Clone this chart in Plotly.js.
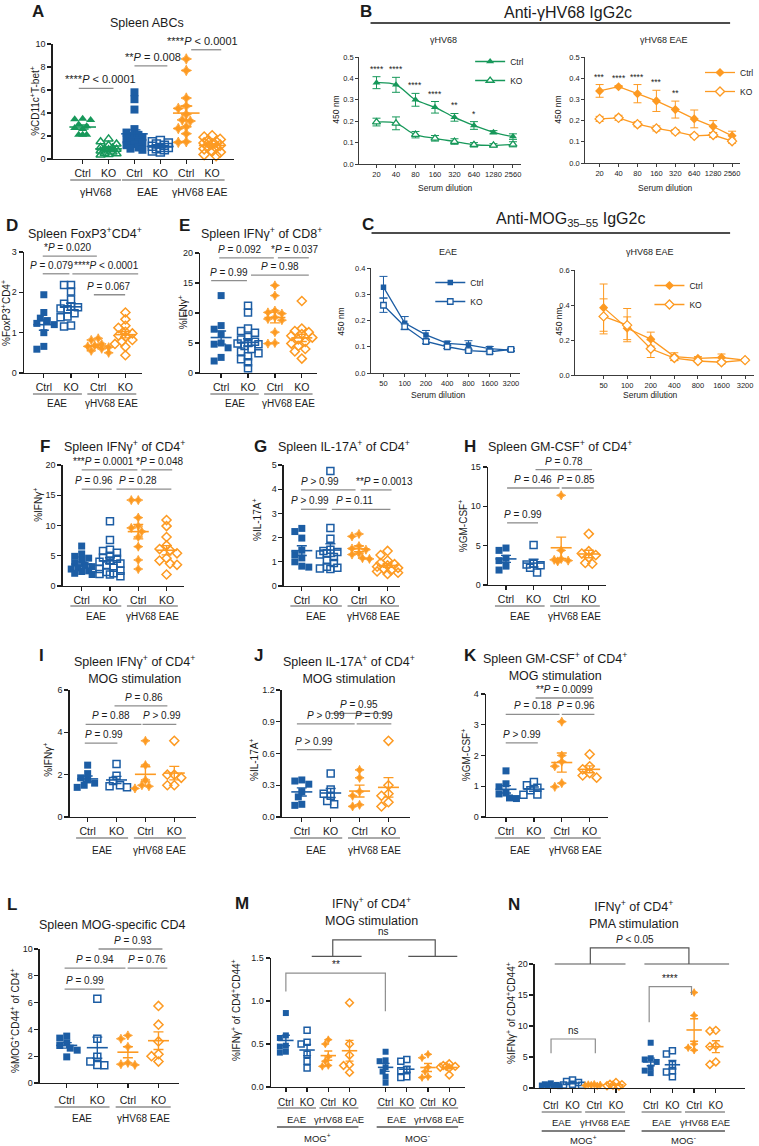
<!DOCTYPE html>
<html><head><meta charset="utf-8">
<script src="https://cdn.plot.ly/plotly-3.0.1.min.js"></script>
<style>html,body{margin:0;padding:0;background:#fff}#chart{width:759px;height:1146px}</style>
</head><body><div id="chart"></div>
<script>
// ================= DATA =================
const catLabels4 = ['Ctrl','KO','Ctrl','KO'];
const catLabels6 = ['Ctrl','KO','Ctrl','KO','Ctrl','KO'];
const catLabels8 = ['Ctrl','KO','Ctrl','KO','Ctrl','KO','Ctrl','KO'];
const groupsA = ['γHV68','EAE','γHV68 EAE'];
const groups2 = ['EAE','γHV68 EAE'];
const groupsMOG = ['MOG<sup>+</sup>','MOG<sup>-</sup>'];

// A: Spleen ABCs (%CD11c+T-bet+)
const A_hv68_ctrl = [3.5, 3.45, 3.4, 3.0, 2.85, 2.7, 2.6, 2.1, 2.1, 2.1];
const A_hv68_ko = [1.75, 1.5, 1.3, 1.2, 1.0, 0.95, 0.9, 0.85, 0.8, 0.7, 0.6, 0.5, 0.45, 0.4, 0.35];
const A_eae_ctrl = [5.8, 5.2, 4.3, 2.6, 2.3, 2.1, 2.0, 1.9, 1.8, 1.7, 1.6, 1.5, 1.4, 1.3, 1.2, 1.0, 0.9, 0.8];
const A_eae_ko = [1.6, 1.5, 1.4, 1.3, 1.2, 1.1, 1.0, 1.0, 0.9, 0.8, 0.7, 0.6];
const A_hv_ctrl = [8.7, 7.7, 5.3, 4.6, 4.4, 3.9, 3.4, 3.3, 2.8, 2.65, 2.2, 1.5, 1.45];
const A_hv_ko = [2.0, 1.9, 1.7, 1.6, 1.5, 1.4, 1.3, 1.2, 1.1, 1.0, 0.9, 0.7, 0.6, 0.4, 0.3];

// B: Anti-gHV68 IgG2c
const B_dilutions = ['20','40','80','160','320','640','1280','2560'];
const B1_ctrl = [0.38, 0.37, 0.30, 0.265, 0.218, 0.18, 0.148, 0.128];
const B1_ctrl_sem = [0.028, 0.035, 0.03, 0.027, 0.018, 0.018, 0.008, 0.013];
const B1_ko = [0.196, 0.19, 0.137, 0.12, 0.105, 0.09, 0.087, 0.092];
const B1_ko_sem = [0.018, 0.03, 0.015, 0.013, 0.013, 0.01, 0.008, 0.012];
const B1_stars = ['****','****','****','****','**','*','',''];
const B2_ctrl = [0.34, 0.36, 0.327, 0.293, 0.252, 0.208, 0.172, 0.128];
const B2_ctrl_sem = [0.03, 0.005, 0.043, 0.05, 0.04, 0.042, 0.028, 0.022];
const B2_ko = [0.208, 0.213, 0.183, 0.163, 0.148, 0.128, 0.132, 0.103];
const B2_ko_sem = [0.012, 0.012, 0.012, 0.012, 0.01, 0.008, 0.012, 0.01];
const B2_stars = ['***','****','****','***','**','','',''];

// C: Anti-MOG35-55 IgG2c
const C_dilutions = ['50','100','200','400','800','1600','3200'];
const C1_ctrl = [0.327, 0.19, 0.145, 0.113, 0.107, 0.093, 0.087];
const C1_ctrl_sem = [0.041, 0.025, 0.017, 0.008, 0.016, 0.008, 0.005];
const C1_ko = [0.258, 0.177, 0.12, 0.1, 0.085, 0.081, 0.09];
const C1_ko_sem = [0.027, 0.01, 0.008, 0.007, 0.005, 0.008, 0.005];
const C2_ctrl = [0.385, 0.267, 0.205, 0.105, 0.095, 0.1, 0.085];
const C2_ctrl_sem = [0.135, 0.065, 0.04, 0.022, 0.01, 0.02, 0.006];
const C2_ko = [0.335, 0.285, 0.15, 0.097, 0.08, 0.073, 0.085];
const C2_ko_sem = [0.1, 0.095, 0.05, 0.015, 0.008, 0.01, 0.006];

// D: FoxP3+CD4+
const D_eae_ctrl = [1.94, 1.5, 1.36, 1.3, 1.23, 1.2, 1.0, 0.66, 0.59];
const D_eae_ko = [2.18, 2.18, 2.02, 1.82, 1.72, 1.65, 1.63, 1.6, 1.58, 1.48, 1.4, 1.38, 1.18, 1.15];
const D_hv_ctrl = [0.86, 0.82, 0.72, 0.68, 0.66, 0.64, 0.6, 0.55, 0.5];
const D_hv_ko = [1.5, 1.33, 1.17, 1.12, 1.02, 0.98, 0.93, 0.9, 0.82, 0.78, 0.72, 0.65, 0.44];
// E: IFNg+ of CD8+
const E_eae_ctrl = [12.9, 7.9, 7.3, 6.5, 5.0, 4.8, 4.2, 2.6, 2.0];
const E_eae_ko = [11.2, 10.1, 7.4, 7.0, 6.7, 6.0, 5.6, 5.2, 5.0, 4.9, 4.8, 4.5, 4.0, 3.6, 3.3, 2.8, 2.3, 1.8, 0.8];
const E_hv_ctrl = [14.6, 12.9, 10.4, 10.1, 9.9, 9.3, 9.0, 8.8, 6.8, 5.0, 4.9];
const E_hv_ko = [12.0, 7.4, 7.0, 6.8, 6.5, 6.2, 5.9, 5.6, 5.2, 4.9, 4.5, 4.0, 3.6, 2.4];
// F: IFNg+ of CD4+
const F_eae_ctrl = [6.6, 5.3, 4.9, 4.6, 4.3, 3.8, 3.4, 3.2, 3.0, 2.8, 2.5, 2.4, 2.1, 1.9];
const F_eae_ko = [10.7, 7.6, 6.0, 5.8, 5.5, 5.0, 4.7, 4.5, 4.2, 4.0, 3.7, 3.4, 3.0, 2.8, 2.5, 2.3, 2.1, 2.0, 1.9, 1.6];
const F_hv_ctrl = [14.2, 14.2, 11.3, 9.9, 9.6, 9.0, 8.1, 6.5, 4.3, 2.8];
const F_hv_ko = [10.9, 9.9, 8.1, 6.7, 6.1, 5.9, 5.4, 4.6, 4.2, 3.7, 3.5, 1.9];
// G: IL-17A+ of CD4+
const G_eae_ctrl = [2.38, 2.25, 1.98, 1.48, 1.3, 1.16, 1.0, 0.82, 0.78];
const G_eae_ko = [4.75, 2.4, 1.95, 1.5, 1.45, 1.4, 1.35, 1.3, 1.2, 1.05, 0.95, 0.8, 0.75, 0.72, 0.7];
const G_hv_ctrl = [2.15, 2.05, 1.65, 1.55, 1.5, 1.35, 1.3, 1.15, 1.12];
const G_hv_ko = [1.45, 1.28, 1.05, 0.95, 0.9, 0.85, 0.8, 0.75, 0.7, 0.65, 0.6, 0.55, 0.5];
// H: GM-CSF+ of CD4+
const H_eae_ctrl = [4.7, 4.4, 3.4, 3.1, 2.4, 1.9];
const H_eae_ko = [5.1, 2.7, 2.6, 2.5, 2.2, 1.6];
const H_hv_ctrl = [11.4, 4.4, 3.3, 3.2, 3.1, 3.0];
const H_hv_ko = [6.5, 4.3, 4.0, 3.8, 3.5, 2.8, 2.7];
// I: IFNg+ of CD4+, MOG stimulation
const I_eae_ctrl = [2.45, 2.05, 1.85, 1.75, 1.6, 1.5, 1.4];
const I_eae_ko = [2.5, 1.95, 1.7, 1.5, 1.45, 1.4];
const I_hv_ctrl = [3.6, 2.45, 1.75, 1.5, 1.45, 1.35];
const I_hv_ko = [3.6, 2.0, 2.0, 1.85, 1.5, 1.5];
// J: IL-17A+ of CD4+, MOG stimulation
const J_eae_ctrl = [0.35, 0.34, 0.31, 0.24, 0.19, 0.12, 0.11];
const J_eae_ko = [0.41, 0.26, 0.22, 0.2, 0.15, 0.12];
const J_hv_ctrl = [0.445, 0.37, 0.24, 0.2, 0.115, 0.1];
const J_hv_ko = [0.72, 0.3, 0.22, 0.2, 0.14, 0.1];
// K: GM-CSF+ of CD4+, MOG stimulation
const K_eae_ctrl = [1.5, 1.08, 0.98, 0.78, 0.75, 0.62, 0.6];
const K_eae_ko = [1.14, 1.03, 0.95, 0.87, 0.73, 0.72];
const K_hv_ctrl = [3.1, 2.0, 1.8, 1.65, 1.1, 0.98];
const K_hv_ko = [2.04, 1.65, 1.55, 1.43, 1.35, 1.28];
// L: MOG-specific CD4
const L_eae_ctrl = [3.5, 3.35, 3.0, 2.8, 2.6, 2.45, 1.95];
const L_eae_ko = [6.28, 3.3, 1.95, 1.6, 1.35, 1.33];
const L_hv_ctrl = [3.55, 3.3, 2.7, 1.5, 1.4, 1.35];
const L_hv_ko = [5.75, 4.35, 3.1, 2.15, 2.0, 1.6];
// M: IFNg+ of CD4+CD44+, MOG stimulation
const M_pos_eae_ctrl = [0.86, 0.6, 0.57, 0.48, 0.47, 0.41, 0.4];
const M_pos_eae_ko = [0.66, 0.52, 0.5, 0.38, 0.3, 0.22];
const M_pos_hv_ctrl = [0.55, 0.5, 0.35, 0.3, 0.25, 0.24];
const M_pos_hv_ko = [0.98, 0.5, 0.37, 0.26, 0.25, 0.17];
const M_neg_eae_ctrl = [0.41, 0.31, 0.3, 0.23, 0.18, 0.12, 0.05];
const M_neg_eae_ko = [0.32, 0.3, 0.2, 0.19, 0.12, 0.11];
const M_neg_hv_ctrl = [0.38, 0.34, 0.23, 0.18, 0.12, 0.11];
const M_neg_hv_ko = [0.27, 0.25, 0.24, 0.24, 0.23, 0.22, 0.14];
// N: IFNg+ of CD4+CD44+, PMA stimulation
const N_pos_eae_ctrl = [0.75, 0.6, 0.5, 0.45, 0.4, 0.35, 0.3];
const N_pos_eae_ko = [1.3, 1.05, 0.9, 0.6, 0.5, 0.45];
const N_pos_hv_ctrl = [0.6, 0.55, 0.5, 0.45, 0.4, 0.35];
const N_pos_hv_ko = [0.9, 0.6, 0.55, 0.45, 0.35, 0.3];
const N_neg_eae_ctrl = [7.3, 4.8, 4.6, 4.2, 3.3, 2.8, 2.4];
const N_neg_eae_ko = [6.0, 5.5, 3.8, 2.8, 2.6, 1.8];
const N_neg_hv_ctrl = [15.4, 11.7, 7.1, 6.5, 6.1];
const N_neg_hv_ko = [9.2, 9.3, 6.8, 6.7, 4.2, 3.8];

// ================= LAYOUT / STYLE =================
const W = 759, H = 1146;
const FONT = 'Liberation Sans, Arial, Helvetica, sans-serif';
const GREEN = '#17985a', BLUE = '#1c5da4', ORANGE = '#fd9a22', GRAY = '#8e8e8e', INK = '#1b1b1b';

const GEO = {
  A:  {n:1,  xL:53,  xR:235, yT:44,  yB:159,  p0:83,  s:26,    yr:[0,10],  dt:2,   dec:0},
  B1: {n:2,  xL:360, xR:523, yT:57,  yB:164,  p0:378, s:19.57, yr:[0,0.5], dt:0.1, dec:1},
  B2: {n:3,  xL:587, xR:743, yT:57,  yB:163,  p0:602, s:19,    yr:[0,0.5], dt:0.1, dec:1},
  C1: {n:4,  xL:372, xR:522, yT:268, yB:373,  p0:385, s:21.33, yr:[0,0.4], dt:0.1, dec:1},
  C2: {n:5,  xL:577, xR:757, yT:270, yB:375,  p0:606, s:23.67, yr:[0,0.6], dt:0.2, dec:1},
  D:  {n:6,  xL:24,  xR:143, yT:252, yB:373,  p0:44,  s:27.3,  yr:[0,3],   dt:1,   dec:0},
  E:  {n:7,  xL:201, xR:318, yT:253, yB:373,  p0:222, s:27,    yr:[0,20],  dt:5,   dec:0},
  F:  {n:8,  xL:63,  xR:185, yT:465, yB:586,  p0:82,  s:28.4,  yr:[0,20],  dt:5,   dec:0},
  G:  {n:9,  xL:285, xR:402, yT:465, yB:586,  p0:303, s:28.7,  yr:[0,5],   dt:1,   dec:0},
  H:  {n:10, xL:490, xR:608, yT:467, yB:585,  p0:508, s:27.7,  yr:[0,15],  dt:5,   dec:0},
  I:  {n:11, xL:70,  xR:197, yT:690, yB:817,  p0:88,  s:29,    yr:[0,6],   dt:2,   dec:0},
  J:  {n:12, xL:283, xR:412, yT:690, yB:817,  p0:303, s:29,    yr:[0,1.2], dt:0.3, dec:1},
  K:  {n:13, xL:488, xR:610, yT:694, yB:817,  p0:508, s:28,    yr:[0,4],   dt:1,   dec:0},
  L:  {n:14, xL:40,  xR:180, yT:949, yB:1083, p0:67,  s:30.7,  yr:[0,10],  dt:2,   dec:0},
  M:  {n:15, xL:272, xR:467, yT:958, yB:1087, p0:287, s:21.3,  yr:[0,1.5], dt:0.5, dec:1},
  N:  {n:16, xL:537, xR:748, yT:964, yB:1088, p0:553, s:21.8,  yr:[0,20],  dt:5,   dec:0}
};
const POS4 = [0,1,2,3], POS6 = [0,1,2,3,4,5];
const POS_M = [0,1,2,3,4.7,5.7,6.7,7.7];
const POS_N = [0,1,2,3,4.6,5.6,6.6,7.6];

const X = px => px / W;
const Y = py => 1 - py / H;
const upx = (g,u) => g.p0 + u * g.s;
const vpy = (g,v) => g.yB - (v - g.yr[0]) / (g.yr[1] - g.yr[0]) * (g.yB - g.yT);
const aid = n => n === 1 ? '' : String(n);

const data = [];
const layout = {
  width: W, height: H, margin: {l:0, r:0, t:0, b:0},
  paper_bgcolor: '#fff', plot_bgcolor: 'rgba(0,0,0,0)',
  font: {family: FONT, color: INK}, showlegend: true,
  annotations: [], shapes: []
};

function txt(t, x, y, size, o) {
  layout.annotations.push(Object.assign({
    text: t, x: X(x), y: Y(y), xref: 'paper', yref: 'paper', showarrow: false,
    xanchor: 'center', yanchor: 'middle', font: {family: FONT, size: size, color: INK}
  }, o || {}));
}
function ln(x0, y0, x1, y1, color, w) {
  layout.shapes.push({type:'line', xref:'paper', yref:'paper', x0:X(x0), y0:Y(y0), x1:X(x1), y1:Y(y1),
    line:{color: color || GRAY, width: w || 1.2}});
}
function poly(pts, color, w) {
  const d = pts.map((p,i) => (i ? 'L' : 'M') + X(p[0]).toFixed(5) + ',' + Y(p[1]).toFixed(5)).join(' ');
  layout.shapes.push({type:'path', xref:'paper', yref:'paper', path: d, line:{color: color || GRAY, width: w || 1.2}});
}

function axes(g, xt, xl, style) {
  const id = aid(g.n);
  const yt = [];
  for (let v = g.yr[0]; v <= g.yr[1] + 1e-9; v += g.dt) yt.push(+v.toFixed(4));
  const common = {showline:true, linecolor:style.lc, linewidth:style.lw, ticks:'outside', ticklen:style.tl,
    tickwidth:style.tw, tickcolor:style.lc, showgrid:false, zeroline:false, fixedrange:true, tickangle:0};
  layout['xaxis' + id] = Object.assign({}, common, {
    domain:[X(g.xL), X(g.xR)], range:[(g.xL - g.p0) / g.s, (g.xR - g.p0) / g.s], anchor:'y' + id,
    tickmode:'array', tickvals:xt, ticktext:xl, tickfont:{family:FONT, size:style.xf, color:INK},
    ticklabelstandoff: style.xso || 0
  });
  layout['yaxis' + id] = Object.assign({}, common, {
    domain:[Y(g.yB), Y(g.yT)], range:g.yr, anchor:'x' + id,
    tickmode:'array', tickvals:yt, ticktext:yt.map(v => v.toFixed(g.dec)),
    tickfont:{family:FONT, size:style.yf, color:INK}
  });
}

const DOT = {lc:'#1e1e1e', lw:1.4, tl:4, tw:1.3, xf:10.5, yf:9};
const LINEAX = {lc:'#3c3c3c', lw:1, tl:2.5, tw:1, xf:7.5, yf:7.5};

const mean = a => a.reduce((s,v) => s + v, 0) / a.length;
const sem = a => { const m = mean(a); return Math.sqrt(a.reduce((s,v) => s + (v-m)*(v-m), 0) / (a.length - 1)) / Math.sqrt(a.length); };

// beeswarm-style horizontal spreading (layout only)
function swarm(vals, g, size) {
  const ppu = (g.yB - g.yT) / (g.yr[1] - g.yr[0]);
  const d = size * 0.85, step = size * 0.5, maxOff = g.s * 0.45;
  const order = vals.map((v,i) => i).sort((a,b) => vals[b] - vals[a]);
  const placed = [], off = new Array(vals.length).fill(0);
  order.forEach(i => {
    const y = vals[i] * ppu;
    let best = 0, bestScore = -1;
    for (let k = 0; ; k++) {
      const m = Math.ceil(k/2) * (k % 2 ? -1 : 1) * step;
      if (Math.abs(m) > maxOff) break;
      let minD = Infinity;
      placed.forEach(p => { const dd = Math.hypot(m - p.x, y - p.y); if (dd < minD) minD = dd; });
      if (minD >= d) { best = m; break; }
      if (minD > bestScore) { bestScore = minD; best = m; }
    }
    placed.push({x: best, y: y});
    off[i] = best / g.s;
  });
  return off;
}

function dotPanel(g, series, ms, mw, cap) {
  const id = aid(g.n);
  series.forEach(s => {
    const off = swarm(s.v, g, ms);
    const filledStar = (!s.open && s.sym === 'diamond');
    data.push({type:'scatter', mode:'markers', x: s.v.map((_,i) => s.pos + off[i]), y: s.v,
      xaxis:'x' + id, yaxis:'y' + id, showlegend:false, hoverinfo:'skip', cliponaxis:false,
      marker:{symbol: s.open ? s.sym + '-open' : (filledStar ? 'star-diamond' : s.sym),
        size: filledStar ? ms - 0.5 : ms, color: s.c,
        line:{color: s.c, width: s.open ? 1.5 : (filledStar ? 0.8 : 0)}}});
  });
  series.forEach(s => {
    data.push({type:'scatter', mode:'markers', x:[s.pos], y:[mean(s.v)], xaxis:'x' + id, yaxis:'y' + id,
      showlegend:false, hoverinfo:'skip', cliponaxis:false,
      marker:{symbol:'line-ew', size: mw, color: s.c, line:{color: s.c, width: 1.6}},
      error_y:{type:'data', array:[sem(s.v)], visible:true, color: s.c, thickness: 1.4, width: cap}});
  });
}
function four(a, b, c, d, pos) {
  pos = pos || POS4;
  return [{v:a, pos:pos[0], c:BLUE, sym:'square'}, {v:b, pos:pos[1], c:BLUE, sym:'square', open:1},
          {v:c, pos:pos[2], c:ORANGE, sym:'diamond'}, {v:d, pos:pos[3], c:ORANGE, sym:'diamond', open:1}];
}

// significance brackets: [from, to, value, label, text x-shift px]
function brackets(g, list, fs) {
  list.forEach(b => {
    const y = vpy(g, b[2]);
    ln(upx(g, b[0]), y, upx(g, b[1]), y, GRAY, 1.3);
    txt(b[3], (upx(g, b[0]) + upx(g, b[1])) / 2 + (b[4] || 0), y - 1, fs || 10, {yanchor:'bottom'});
  });
}
function groupRow(g, pos, pairs, labels, lineY, labelY, fs, ext, color) {
  pairs.forEach((p, i) => {
    ln(upx(g, pos[p[0]] - ext), lineY, upx(g, pos[p[1]] + ext), lineY, color || GRAY, 1.3);
    txt(labels[i], (upx(g, pos[p[0]]) + upx(g, pos[p[1]])) / 2, labelY, fs);
  });
}

// ---------- Panel A ----------
axes(GEO.A, POS6, catLabels6, DOT);
dotPanel(GEO.A, [
  {v:A_hv68_ctrl, pos:0, c:GREEN, sym:'triangle-up'}, {v:A_hv68_ko, pos:1, c:GREEN, sym:'triangle-up', open:1},
  {v:A_eae_ctrl, pos:2, c:BLUE, sym:'square'}, {v:A_eae_ko, pos:3, c:BLUE, sym:'square', open:1},
  {v:A_hv_ctrl, pos:4, c:ORANGE, sym:'diamond'}, {v:A_hv_ko, pos:5, c:ORANGE, sym:'diamond', open:1}
], 8, 19, 6);
brackets(GEO.A, [[-0.15,1.19,6.15,'****<i>P</i> < 0.0001',4], [2.0,3.27,8.1,'**<i>P</i> = 0.008',2], [4.19,5.35,9.5,'****<i>P</i> < 0.0001',-4]], 11);
groupRow(GEO.A, POS6, [[0,1],[2,3],[4,5]], groupsA, 180, 192, 10.5, 0.48);

// ---------- Line panels B, C ----------
function linePanel(g, cats, ctrl, ctrlSem, ko, koSem, color, sym, ms, spline, legend) {
  const id = aid(g.n);
  axes(g, cats.map((c,i) => i), cats, LINEAX);
  const xs = cats.map((c,i) => i);
  data.push({type:'scatter', mode:'lines+markers', name:'Ctrl', x: xs, y: ctrl, xaxis:'x'+id, yaxis:'y'+id, legend: legend,
    hoverinfo:'skip', line:{color: color, width: 1.3, shape: spline ? 'spline' : 'linear'},
    marker:{symbol: sym, size: ms, color: color},
    error_y:{type:'data', array: ctrlSem, visible:true, color: color, thickness: 1, width: 4}});
  data.push({type:'scatter', mode:'lines+markers', name:'KO', x: xs, y: ko, xaxis:'x'+id, yaxis:'y'+id, legend: legend,
    hoverinfo:'skip', line:{color: color, width: 1.3, shape: spline ? 'spline' : 'linear'},
    marker:{symbol: sym, size: ms, color: '#ffffff', line:{color: color, width: 1.3}},
    error_y:{type:'data', array: koSem, visible:true, color: color, thickness: 1, width: 4}});
}
linePanel(GEO.B1, B_dilutions, B1_ctrl, B1_ctrl_sem, B1_ko, B1_ko_sem, GREEN, 'triangle-up', 7, true, 'legend');
linePanel(GEO.B2, B_dilutions, B2_ctrl, B2_ctrl_sem, B2_ko, B2_ko_sem, ORANGE, 'diamond', 7, false, 'legend2');
linePanel(GEO.C1, C_dilutions, C1_ctrl, C1_ctrl_sem, C1_ko, C1_ko_sem, BLUE, 'square', 5.5, false, 'legend3');
linePanel(GEO.C2, C_dilutions, C2_ctrl, C2_ctrl_sem, C2_ko, C2_ko_sem, ORANGE, 'diamond', 7, false, 'legend4');
function stars(g, list, vals, sems) {
  const id = aid(g.n);
  list.forEach((s, i) => { if (s) layout.annotations.push({text: s, x: i, y: vals[i] + sems[i], xref:'x'+id, yref:'y'+id,
    showarrow:false, yanchor:'bottom', yshift: 1, font:{family:FONT, size:8.5, color:INK}}); });
}
stars(GEO.B1, B1_stars, B1_ctrl, B1_ctrl_sem);
stars(GEO.B2, B2_stars, B2_ctrl, B2_ctrl_sem);
const legBase = {xanchor:'left', yanchor:'top', bgcolor:'rgba(0,0,0,0)', font:{family:FONT, size:8.5, color:INK},
  itemwidth:30, tracegroupgap:0, traceorder:'normal'};
layout.legend = Object.assign({x: X(472), y: Y(47)}, legBase);
layout.legend2 = Object.assign({x: X(703), y: Y(58)}, legBase);
layout.legend3 = Object.assign({x: X(432), y: Y(268)}, legBase);
layout.legend4 = Object.assign({x: X(652), y: Y(271)}, legBase);

// headers for B and C
txt('Anti-γHV68 IgG2c', 570, 12, 16);
ln(372, 23, 733, 23, '#111', 1.5);
txt('Anti-MOG<sub>35–55</sub> IgG2c', 573, 220, 16);
ln(373, 233, 733, 233, '#111', 1.5);
txt('γHV68', 445, 40, 9); txt('γHV68 EAE', 667, 40, 9);
txt('EAE', 450, 252, 9); txt('γHV68 EAE', 653, 252, 9);
[[447,188],[668,188],[440,395],[653,395]].forEach(p => txt('Serum dilution', p[0], p[1], 8.5));
[[337,110],[560,110],[342,322],[561,322]].forEach(p => txt('450 nm', p[0], p[1], 8.5, {textangle:-90}));

// ---------- Panels D-L ----------
axes(GEO.D, POS4, catLabels4, DOT);
dotPanel(GEO.D, four(D_eae_ctrl, D_eae_ko, D_hv_ctrl, D_hv_ko), 7, 15, 5);
brackets(GEO.D, [[-0.04,1.95,2.9,'*<i>P</i> = 0.020',-2.5], [-0.04,0.94,2.46,'<i>P</i> = 0.079',-4], [1.05,3.47,2.46,'****<i>P</i> < 0.0001',1], [1.84,2.99,1.94,'<i>P</i> = 0.067']]);
groupRow(GEO.D, POS4, [[0,1],[2,3]], groups2, 394, 404, 10, 0.4);

axes(GEO.E, POS4, catLabels4, DOT);
dotPanel(GEO.E, four(E_eae_ctrl, E_eae_ko, E_hv_ctrl, E_hv_ko), 7, 15, 5);
brackets(GEO.E, [[-0.07,1.96,19.2,'<i>P</i> = 0.092',-6.5], [2.11,3.26,19.2,'*<i>P</i> = 0.037',1.5], [-0.37,0.96,15.4,'<i>P</i> = 0.99'], [1.11,3.26,16.3,'<i>P</i> = 0.98']]);
groupRow(GEO.E, POS4, [[0,1],[2,3]], groups2, 394, 404, 10, 0.4);

axes(GEO.F, POS4, catLabels4, DOT);
dotPanel(GEO.F, four(F_eae_ctrl, F_eae_ko, F_hv_ctrl, F_hv_ko), 7, 15, 5);
brackets(GEO.F, [[0,1.97,19.2,'***<i>P</i> = 0.0001',-6], [2.11,3.2,19.2,'*<i>P</i> = 0.048',3], [0,1.06,16.0,'<i>P</i> = 0.96',-3], [1.23,3.17,16.0,'<i>P</i> = 0.28',-5.5]]);
groupRow(GEO.F, POS4, [[0,1],[2,3]], groups2, 606, 616, 10, 0.4);

axes(GEO.G, POS4, catLabels4, DOT);
dotPanel(GEO.G, four(G_eae_ctrl, G_eae_ko, G_hv_ctrl, G_hv_ko), 7, 15, 5);
brackets(GEO.G, [[-0.03,1.88,3.97,'<i>P</i> > 0.99',-8], [2.06,3.14,3.97,'**<i>P</i> = 0.0013',8], [-0.03,0.87,3.17,'<i>P</i> > 0.99',-3.5], [1.05,3.1,3.17,'<i>P</i> = 0.11',-6.5]]);
groupRow(GEO.G, POS4, [[0,1],[2,3]], groups2, 606, 616, 10, 0.4);

axes(GEO.H, POS4, catLabels4, DOT);
dotPanel(GEO.H, four(H_eae_ctrl, H_eae_ko, H_hv_ctrl, H_hv_ko), 7, 15, 5);
brackets(GEO.H, [[1.07,3.12,14.66,'<i>P</i> = 0.78'], [0.04,1.94,12.33,'<i>P</i> = 0.46'], [2.02,3.18,12.33,'<i>P</i> = 0.85',-2], [0.04,1.16,7.9,'<i>P</i> = 0.99']]);
groupRow(GEO.H, POS4, [[0,1],[2,3]], groups2, 606, 616, 10, 0.4);

axes(GEO.I, POS4, catLabels4, DOT);
dotPanel(GEO.I, four(I_eae_ctrl, I_eae_ko, I_hv_ctrl, I_hv_ko), 7, 15, 5);
brackets(GEO.I, [[0.93,2.76,5.25,'<i>P</i> = 0.86',3], [-0.07,1.86,4.38,'<i>P</i> = 0.88',-3], [1.9,3.07,4.38,'<i>P</i> > 0.99',2.5], [-0.1,1.03,3.49,'<i>P</i> = 0.99',3]]);
groupRow(GEO.I, POS4, [[0,1],[2,3]], groups2, 838, 850, 10, 0.4);

axes(GEO.J, POS4, catLabels4, DOT);
dotPanel(GEO.J, four(J_eae_ctrl, J_eae_ko, J_hv_ctrl, J_hv_ko), 7, 15, 5);
brackets(GEO.J, [[0.93,3.0,0.98,'<i>P</i> = 0.95'], [-0.17,1.83,0.88,'<i>P</i> > 0.99'], [1.9,3.1,0.88,'<i>P</i> = 0.99'], [-0.17,1.03,0.636,'<i>P</i> > 0.99']]);
groupRow(GEO.J, POS4, [[0,1],[2,3]], groups2, 838, 850, 10, 0.4);

axes(GEO.K, POS4, catLabels4, DOT);
dotPanel(GEO.K, four(K_eae_ctrl, K_eae_ko, K_hv_ctrl, K_hv_ko), 7, 15, 5);
brackets(GEO.K, [[1.06,3.14,3.87,'**<i>P</i> = 0.0099'], [-0.01,1.92,3.34,'<i>P</i> = 0.18'], [2.0,3.17,3.34,'<i>P</i> = 0.96',-2], [-0.01,1.14,2.41,'<i>P</i> > 0.99']]);
groupRow(GEO.K, POS4, [[0,1],[2,3]], groups2, 838, 850, 10, 0.4);

axes(GEO.L, POS4, catLabels4, Object.assign({}, DOT, {xso: 3}));
dotPanel(GEO.L, four(L_eae_ctrl, L_eae_ko, L_hv_ctrl, L_hv_ko), 7, 15, 5);
brackets(GEO.L, [[1.04,3.13,10.0,'<i>P</i> = 0.93',3], [-0.07,1.92,8.58,'<i>P</i> = 0.94'], [1.99,3.29,8.58,'<i>P</i> = 0.76'], [-0.07,1.24,7.0,'<i>P</i> = 0.99']]);
groupRow(GEO.L, POS4, [[0,1],[2,3]], groups2, 1107, 1118, 10, 0.4);

// ---------- Panel M ----------
axes(GEO.M, POS_M, catLabels8, Object.assign({}, DOT, {xf:10, xso: 2}));
dotPanel(GEO.M, four(M_pos_eae_ctrl, M_pos_eae_ko, M_pos_hv_ctrl, M_pos_hv_ko, POS_M.slice(0,4))
  .concat(four(M_neg_eae_ctrl, M_neg_eae_ko, M_neg_hv_ctrl, M_neg_hv_ko, POS_M.slice(4))), 6, 11, 4);
(function(){
  const g = GEO.M, P = (u,v) => [upx(g,u), vpy(g,v)];
  poly([P(0,1.11), P(0,1.325), P(4.69,1.325), P(4.69,0.88)], GRAY, 1.2);
  txt('**', upx(g,2.35), vpy(g,1.325) - 1, 10, {yanchor:'bottom'});
  poly([P(1.22,1.52), P(3.57,1.52)], '#555', 1.2);
  poly([P(5.77,1.52), P(8.08,1.52)], '#555', 1.2);
  poly([P(2.21,1.52), P(2.21,1.71), P(7.04,1.71), P(7.04,1.52)], '#555', 1.2);
  txt('ns', upx(g,4.62), vpy(g,1.71) - 1, 10, {yanchor:'bottom'});
})();
groupRow(GEO.M, POS_M, [[0,1],[2,3],[4,5],[6,7]], ['EAE','γHV68 EAE','EAE','γHV68 EAE'], 1108, 1119, 9.5, 0.42);
groupRow(GEO.M, POS_M, [[0,3],[4,7]], groupsMOG, 1127, 1138, 9.5, 0.42, '#555');

// ---------- Panel N ----------
axes(GEO.N, POS_N, catLabels8, Object.assign({}, DOT, {xf:10, xso: 4}));
dotPanel(GEO.N, four(N_pos_eae_ctrl, N_pos_eae_ko, N_pos_hv_ctrl, N_pos_hv_ko, POS_N.slice(0,4))
  .concat(four(N_neg_eae_ctrl, N_neg_eae_ko, N_neg_hv_ctrl, N_neg_hv_ko, POS_N.slice(4))), 6, 11, 4);
(function(){
  const g = GEO.N, P = (u,v) => [upx(g,u), vpy(g,v)];
  poly([P(0.01,5.6), P(0.01,7.9), P(2.05,7.9), P(2.05,5.6)], GRAY, 1.2);
  txt('ns', upx(g,1.03), vpy(g,7.9) - 1, 10, {yanchor:'bottom'});
  poly([P(4.53,10.6), P(4.53,16.35), P(6.48,16.35), P(6.48,15.0)], GRAY, 1.2);
  txt('****', upx(g,5.5), vpy(g,16.35) - 1, 10, {yanchor:'bottom'});
  poly([P(0.18,20), P(3.44,20)], '#555', 1.2);
  poly([P(4.31,20), P(8.21,20)], '#555', 1.2);
  poly([P(1.82,20), P(1.82,22.6), P(6.36,22.6), P(6.36,20)], '#555', 1.2);
  txt('<i>P</i> < 0.05', upx(g,3.9), vpy(g,22.6) - 1, 10, {yanchor:'bottom'});
})();
groupRow(GEO.N, POS_N, [[0,1],[2,3],[4,5],[6,7]], ['EAE','γHV68 EAE','EAE','γHV68 EAE'], 1112, 1122, 9.5, 0.42);
groupRow(GEO.N, POS_N, [[0,3],[4,7]], groupsMOG, 1131, 1140, 9.5, 0.42, '#555');

// ---------- titles, letters, y titles ----------
const LET = [['A',38,11],['B',367,11],['C',369,224],['D',12,225],['E',185,225],['F',45,446],['G',262,446],['H',472,446],
  ['I',42,655],['J',260,655],['K',472,655],['L',12,904],['M',243,903],['N',516,904]];
LET.forEach(l => txt('<b>' + l[0] + '</b>', l[1], l[2], 17));

const TIT = [
  ['Spleen ABCs',148,23],
  ['Spleen FoxP3<sup>+</sup>CD4<sup>+</sup>',85,233],
  ['Spleen IFNγ<sup>+</sup> of CD8<sup>+</sup>',263,233],
  ['Spleen IFNγ<sup>+</sup> of CD4<sup>+</sup>',125,446],
  ['Spleen IL-17A<sup>+</sup> of CD4<sup>+</sup>',345,446],
  ['Spleen GM-CSF<sup>+</sup> of CD4<sup>+</sup>',562,446],
  ['Spleen IFNγ<sup>+</sup> of CD4<sup>+</sup><br>MOG stimulation',135,669],
  ['Spleen IL-17A<sup>+</sup> of CD4<sup>+</sup><br>MOG stimulation',350,669],
  ['Spleen GM-CSF<sup>+</sup> of CD4<sup>+</sup><br>MOG stimulation',557,666],
  ['Spleen MOG-specific CD4',113,925],
  ['IFNγ<sup>+</sup> of CD4<sup>+</sup><br>MOG stimulation',373,911],
  ['IFNγ<sup>+</sup> of CD4<sup>+</sup><br>PMA stimulation',637,914]
];
TIT.forEach(t => txt(t[0], t[1], t[2], 12.5));

const YT = [
  ['%CD11c<sup>+</sup>T-bet<sup>+</sup>',35,101],
  ['%FoxP3<sup>+</sup>CD4<sup>+</sup>',6,313],
  ['%IFNγ<sup>+</sup>',184,312],
  ['%IFNγ<sup>+</sup>',38,505],
  ['%IL-17A<sup>+</sup>',258,520],
  ['%GM-CSF<sup>+</sup>',465,526],
  ['%IFNγ<sup>+</sup>',48,760],
  ['%IL-17A<sup>+</sup>',255,760],
  ['%GM-CSF<sup>+</sup>',468,755],
  ['%MOG<sup>+</sup>CD44<sup>+</sup> of CD4<sup>+</sup>',15,1020],
  ['%IFNγ<sup>+</sup> of CD4<sup>+</sup>CD44<sup>+</sup>',237,1010],
  ['%IFNγ<sup>+</sup> of CD4<sup>+</sup>CD44<sup>+</sup>',513,1013]
];
YT.forEach(t => txt(t[0], t[1], t[2], 10, {textangle:-90}));

Plotly.newPlot('chart', data, layout, {staticPlot:true, displayModeBar:false});
</script></body></html>
